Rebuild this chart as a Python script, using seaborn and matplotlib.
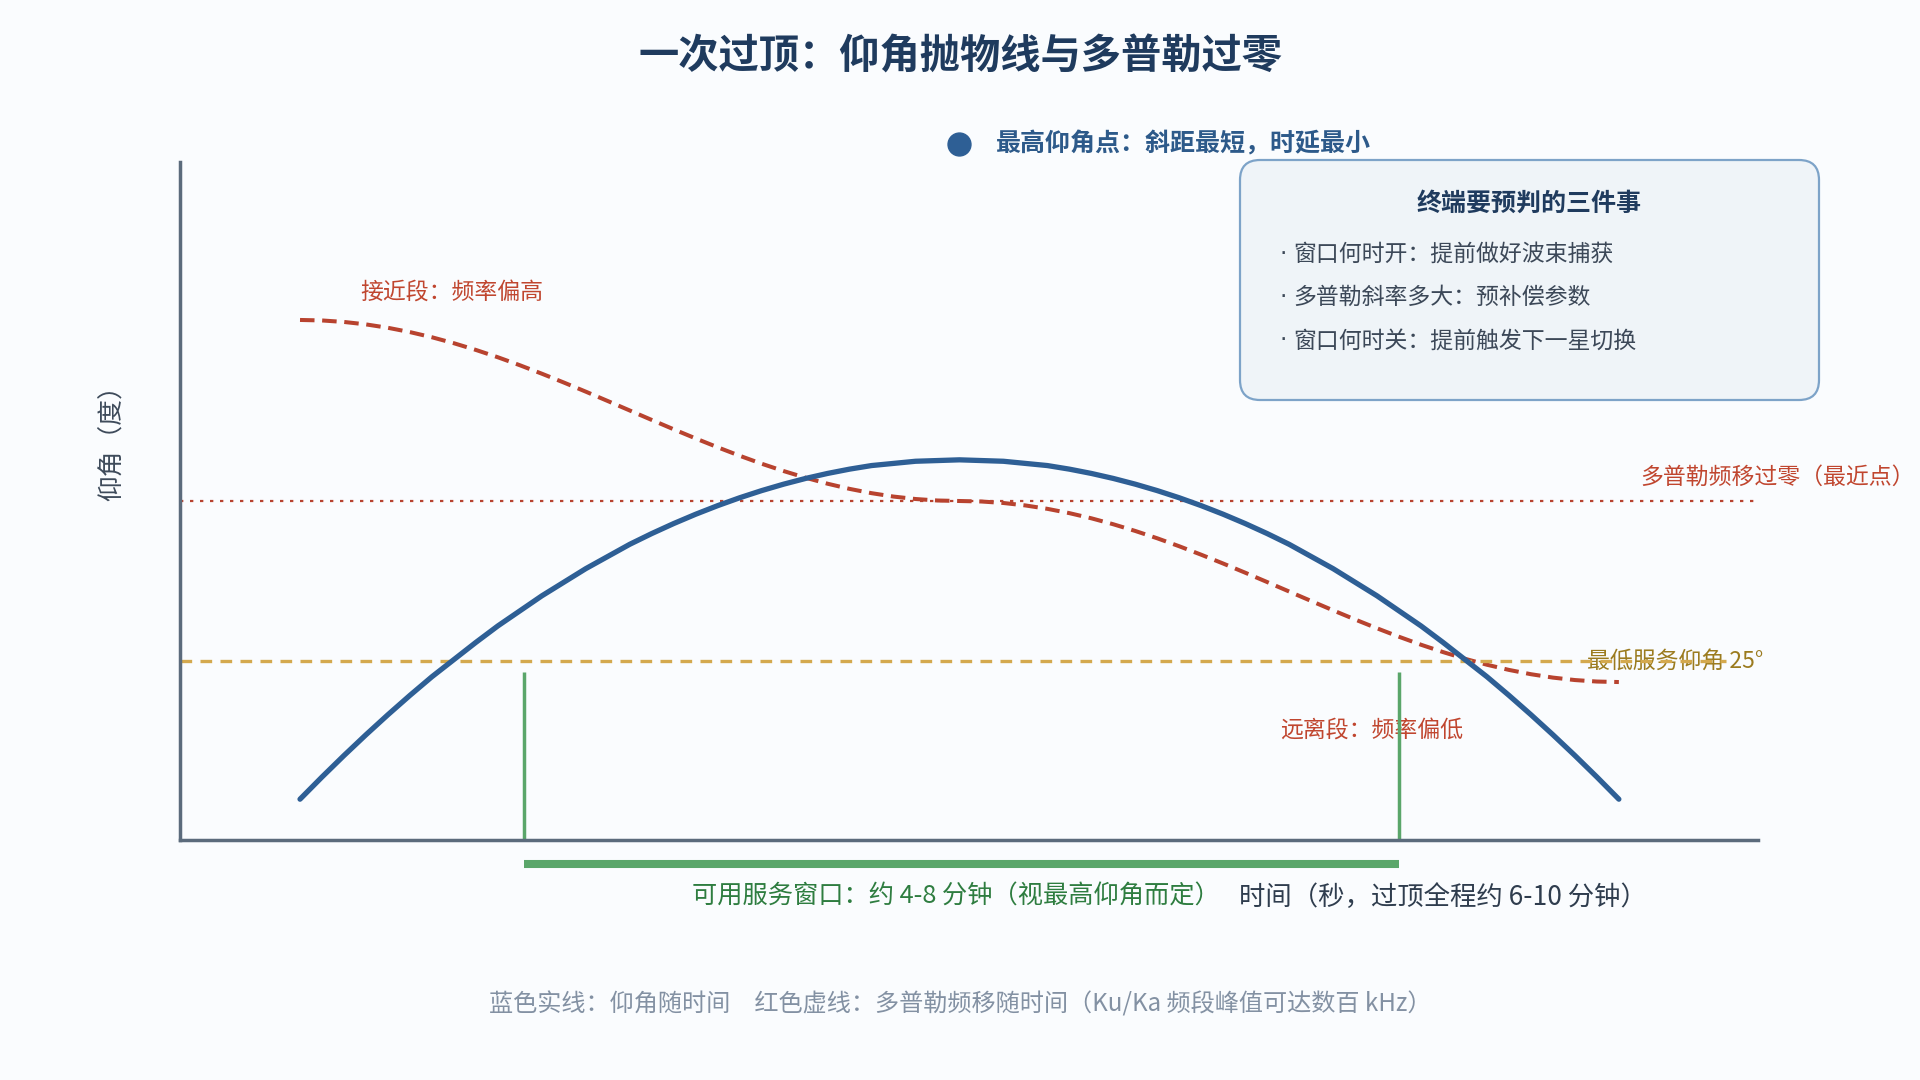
import matplotlib.pyplot as plt
import seaborn as sns
from matplotlib.patches import FancyBboxPatch

# 时间（秒，每 10 秒一个读数），按原图读取的仰角与多普勒频移
t_sec = list(range(0, 610, 10))
elev_deg = [5.7, 8.8, 11.8, 14.7, 17.5, 20.2, 22.8, 25.2, 27.6, 29.9,
            32.0, 34.1, 36.0, 37.9, 39.6, 41.3, 42.8, 44.2, 45.5, 46.7,
            47.8, 48.8, 49.7, 50.5, 51.2, 51.8, 52.3, 52.6, 52.9, 53.0,
            53.1,
            53.0, 52.9, 52.6, 52.3, 51.8, 51.2, 50.5, 49.7, 48.8, 47.8,
            46.7, 45.5, 44.2, 42.8, 41.3, 39.6, 37.9, 36.0, 34.1, 32.0,
            29.9, 27.6, 25.2, 22.8, 20.2, 17.5, 14.7, 11.8, 8.8, 5.7]
doppler_khz = [400, 398.9, 395.6, 390.2, 382.7, 373.2, 361.8, 348.6, 333.8, 317.6,
               300, 281.3, 261.8, 241.6, 220.9, 200, 179.1, 158.4, 138.2, 118.7,
               100, 82.4, 66.2, 51.4, 38.2, 26.8, 17.3, 9.8, 4.4, 1.1,
               0,
               -1.1, -4.4, -9.8, -17.3, -26.8, -38.2, -51.4, -66.2, -82.4, -100,
               -118.7, -138.2, -158.4, -179.1, -200, -220.9, -241.6, -261.8, -281.3, -300,
               -317.6, -333.8, -348.6, -361.8, -373.2, -382.7, -390.2, -395.6, -398.9, -400]

min_elev = 25
window_sec = [102, 500]
peak_t = 300

box_title = "终端要预判的三件事"
box_items = ["窗口何时开：提前做好波束捕获",
             "多普勒斜率多大：预补偿参数",
             "窗口何时关：提前触发下一星切换"]

BG = "#FAFCFE"
BLUE = "#2e5f95"
RED = "#b8432f"
GOLD = "#d4a94e"
GREEN = "#5aa66a"
NAVY = "#1f3b5e"
SLATE = "#5b6b7c"

sns.set_theme(style="white")
plt.rcParams['font.family'] = ['Noto Sans CJK SC', 'DejaVu Sans']

W, H = 1920, 1080
def px(x, y):
    return x / W, 1 - y / H

fig = plt.figure(figsize=(19.2, 10.8), dpi=100, facecolor=BG)
ax = fig.add_axes([180 / W, 1 - 840 / H, (1758 - 180) / W, (840 - 162) / H])
ax2 = ax.twinx()
ax.set_zorder(ax2.get_zorder() + 1)
ax.patch.set_visible(False)
ax2.patch.set_facecolor(BG)

# 多普勒（次坐标）
sns.lineplot(x=t_sec, y=doppler_khz, ax=ax2, color=RED, linewidth=2.9,
             linestyle=(0, (3.6, 1.9)), sort=False, errorbar=None)
ax2.axhline(0, color=RED, linewidth=1.6, linestyle=(0, (1.5, 3.0)))
ax2.set_ylim(-749, 749)

# 仰角
ax.axhline(min_elev, xmax=0.98, color=GOLD, linewidth=2.4, linestyle=(0, (3.5, 2.5)))
ax.vlines(window_sec, 0, 23.5, color=GREEN, linewidth=2.5)
ax.plot(window_sec, [-3.35, -3.35], color=GREEN, linewidth=5.8,
        solid_capstyle="butt", clip_on=False)
sns.lineplot(x=t_sec, y=elev_deg, ax=ax, color=BLUE, linewidth=3.8,
             sort=False, errorbar=None)
ax.plot([peak_t], [97.2], "o", color=BLUE, markersize=16.5, clip_on=False)

ax.set_xlim(-54.6, 663.3)
ax.set_ylim(0, 94.7)
for a in (ax, ax2):
    a.set_xticks([])
    a.set_yticks([])
    a.set_xlabel("")
    a.set_ylabel("")
for s in ax2.spines.values():
    s.set_visible(False)
ax.spines["top"].set_visible(False)
ax.spines["right"].set_visible(False)
for s in ("left", "bottom"):
    ax.spines[s].set_color(SLATE)
    ax.spines[s].set_linewidth(2.5)

# 文本
fig.text(*px(960, 57), "一次过顶：仰角抛物线与多普勒过零", fontsize=29,
         fontweight="bold", color=NAVY, ha="center", va="center")
fig.text(*px(996, 144), "最高仰角点：斜距最短，时延最小", fontsize=18,
         fontweight="bold", color="#2d5a8a", ha="left", va="center")
fig.text(*px(113, 437), "仰角（度）", fontsize=18.5, color="#3d4a5a",
         rotation=90, ha="center", va="center")

def ann(x, y, s, color, ha="left", size=16.5):
    ax.text(*px(x, y), s, transform=fig.transFigure, fontsize=size, color=color,
            ha=ha, va="center", zorder=1, clip_on=False)

ann(360, 292, "接近段：频率偏高", "#c0462f")
ann(1280, 730, "远离段：频率偏低", "#c0462f")
ann(1640, 477, "多普勒频移过零（最近点）", "#c0462f")
ann(1587, 661, "最低服务仰角 25°", "#9b7b1f")

fig.text(*px(956, 897), "可用服务窗口：约 4-8 分钟（视最高仰角而定）", fontsize=18.2,
         color="#2e7d40", ha="center", va="center")
fig.text(*px(1239, 897), "时间（秒，过顶全程约 6-10 分钟）", fontsize=19,
         color="#2f3d4e", ha="left", va="center")
fig.text(*px(960, 1004), "蓝色实线：仰角随时间　红色虚线：多普勒频移随时间（Ku/Ka 频段峰值可达数百 kHz）",
         fontsize=17.4, color="#8391a3", ha="center", va="center")

# 右上信息框
box = FancyBboxPatch((12.40, 6.80), 5.79, 2.40, boxstyle="round,pad=0,rounding_size=0.2",
                     transform=fig.dpi_scale_trans, facecolor="#EFF4F8",
                     edgecolor="#7da3c8", linewidth=1.6)
fig.add_artist(box)
fig.text(*px(1529, 204), box_title, fontsize=18, fontweight="bold",
         color=NAVY, ha="center", va="center")
for i, item in enumerate(box_items):
    y = 254 + i * 43.5
    fig.text(*px(1283, y), "·", fontsize=16.5, color="#3c4858",
             ha="center", va="center", family="DejaVu Sans")
    fig.text(*px(1293, y), item, fontsize=16.5, color="#3c4858",
             ha="left", va="center")

fig.savefig("out.png", dpi=100, facecolor=BG)
